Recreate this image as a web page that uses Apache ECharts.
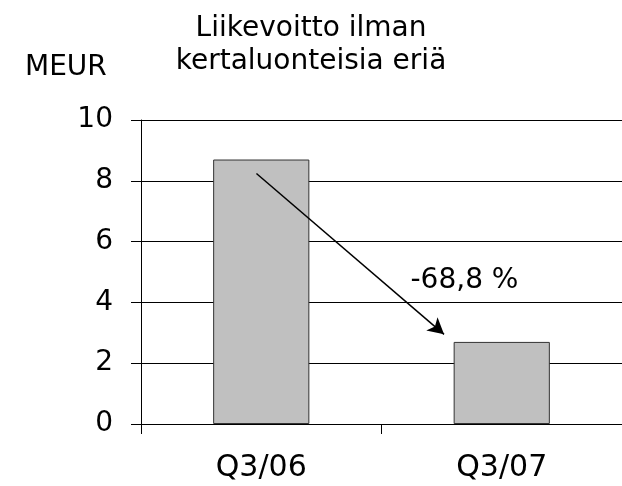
<!DOCTYPE html>
<html>
<head>
<meta charset="utf-8">
<script src="https://cdn.jsdelivr.net/npm/echarts@6/dist/echarts.min.js"></script>
<style>
html,body{margin:0;padding:0;background:#fff;}
#chart{width:622px;height:486px;}
</style>
</head>
<body>
<div id="chart"></div>
<script>
var categories = ['Q3/06', 'Q3/07'];
var values = [8.7, 2.7];
var yTicks = [0, 2, 4, 6, 8, 10];
var titleText = 'Liikevoitto ilman\nkertaluonteisia eriä';
var unitText = 'MEUR';
var changeLabel = '-68,8 %';
// arrow annotation on a hidden 0..2 value axis spanning the two categories
var arrowFrom = [0.48, 8.24];
var arrowTo = [1.26, 2.95];
var labelAt = [1.345, 4.72];

var FONT = 'DejaVu Sans';
var chart = echarts.init(document.getElementById('chart'), null, {renderer: 'canvas'});
chart.setOption({
  backgroundColor: '#ffffff',
  animation: false,
  title: [
    {text: titleText, left: 'center', top: 7,
     textStyle: {fontFamily: FONT, fontSize: 28, fontWeight: 'normal', color: '#000', lineHeight: 33}},
    {text: unitText, left: 20, top: 49,
     textStyle: {fontFamily: FONT, fontSize: 28, fontWeight: 'normal', color: '#000'}}
  ],
  grid: {left: 141, top: 120, width: 486, height: 304, containLabel: false},
  xAxis: [
    {type: 'category', data: categories, boundaryGap: true,
     axisLine: {show: true, lineStyle: {color: '#000', width: 1}},
     axisTick: {show: true, length: 10, alignWithLabel: false, lineStyle: {color: '#000'}},
     axisLabel: {fontFamily: FONT, fontSize: 30, color: '#000', margin: 29},
     splitLine: {show: false}},
    {type: 'value', min: 0, max: 2, show: false}
  ],
  yAxis: {
    type: 'value', min: yTicks[0], max: yTicks[yTicks.length - 1], interval: yTicks[1] - yTicks[0],
    axisLine: {show: true, lineStyle: {color: '#000', width: 1}},
    axisTick: {show: true, length: 10, lineStyle: {color: '#000'}},
    axisLabel: {fontFamily: FONT, fontSize: 28, color: '#000', margin: 28},
    splitLine: {show: true, lineStyle: {color: '#000', width: 1}}
  },
  series: [
    {type: 'bar', xAxisIndex: 0, data: values, barWidth: '40%',
     itemStyle: {color: '#c0c0c0', borderColor: '#333', borderWidth: 1}},
    {type: 'line', xAxisIndex: 1, data: [], symbol: 'none',
     markLine: {
       silent: true, symbol: ['none', 'arrow'], symbolSize: [13, 16],
       lineStyle: {color: '#000', width: 1.5, type: 'solid'},
       label: {show: false},
       data: [[{coord: arrowFrom}, {coord: arrowTo}]]
     },
     markPoint: {
       silent: true, symbol: 'circle', symbolSize: 0,
       label: {show: true, position: 'inside', formatter: changeLabel,
               fontFamily: FONT, fontSize: 28, color: '#000'},
       data: [{coord: labelAt}]
     }}
  ]
});
</script>
</body>
</html>
